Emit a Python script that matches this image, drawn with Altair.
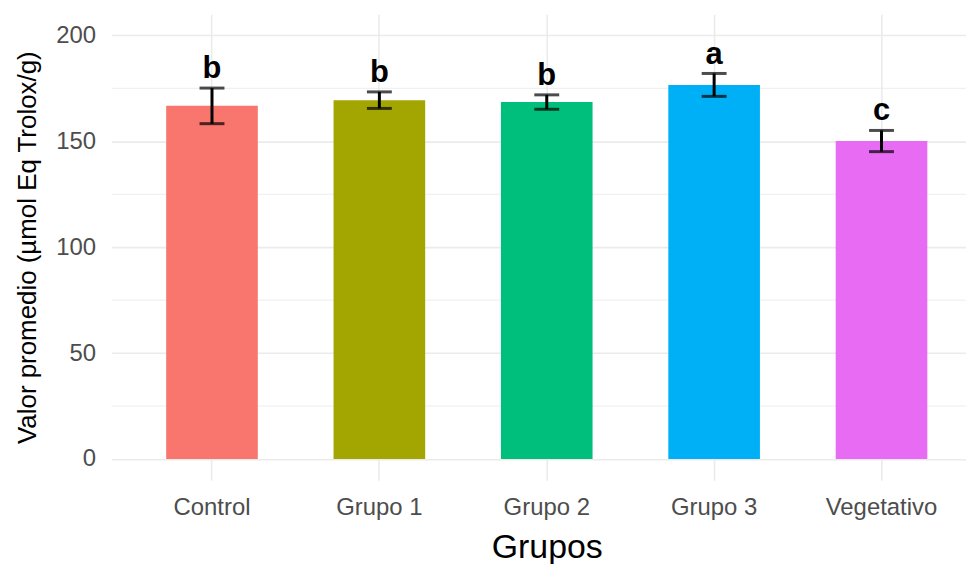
import altair as alt
import pandas as pd

groups = ["Control", "Grupo 1", "Grupo 2", "Grupo 3", "Vegetativo"]
means = [166.7, 169.4, 168.5, 176.6, 150.1]
errs = [8.4, 3.9, 3.4, 5.4, 5.0]
letters = ["b", "b", "b", "a", "c"]
colors = ["#F8766D", "#A3A500", "#00BF7D", "#00B0F6", "#E76BF3"]
major_ticks = [0, 50, 100, 150, 200]
minor_ticks = [25, 75, 125, 175]

df = pd.DataFrame({
    "group": groups,
    "mean": means,
    "lower": [m - e for m, e in zip(means, errs)],
    "upper": [m + e for m, e in zip(means, errs)],
    "letter": letters,
})
minor_df = pd.DataFrame({"v": minor_ticks})

FONT = "Liberation Sans"
PLOT_W = 874
Y_TITLE = "Valor promedio (µmol Eq Trolox/g)"

yscale = alt.Scale(domain=[-10, 210], nice=False, zero=False)
xscale = alt.Scale(domain=groups, range=[0, PLOT_W], paddingInner=0.4526, paddingOuter=0.3263)

x_axis = alt.Axis(
    title="Grupos", titleFontSize=34, titleColor="black", titleFontWeight="normal",
    titleFont=FONT, titlePadding=12,
    labelFontSize=24, labelColor="#4D4D4D", labelFont=FONT, labelPadding=15, labelAngle=0,
    ticks=False, domain=False, grid=True, gridColor="#EBEBEB", gridWidth=1.6, bandPosition=0.5,
)
y_axis = alt.Axis(
    title=Y_TITLE, titleFontSize=26, titleColor="black",
    titleFontWeight="normal", titleFont=FONT, titlePadding=15,
    labelFontSize=24, labelColor="#4D4D4D", labelFont=FONT, labelPadding=16,
    values=major_ticks, ticks=False, domain=False, grid=True, gridColor="#EBEBEB", gridWidth=1.6,
)

minor = alt.Chart(minor_df).mark_rule(color="#EBEBEB", strokeWidth=0.9).encode(
    y=alt.Y("v:Q", scale=yscale, axis=y_axis, title=Y_TITLE),
    x=alt.value(0), x2=alt.value(PLOT_W),
)

base = alt.Chart(df)

bars = base.mark_bar().encode(
    x=alt.X("group:N", sort=groups, scale=xscale, axis=x_axis),
    y=alt.Y("mean:Q", scale=yscale, axis=y_axis, title=Y_TITLE),
    color=alt.Color("group:N", scale=alt.Scale(domain=groups, range=colors), legend=None),
)

err = base.mark_rule(color="black", strokeWidth=3).encode(
    x=alt.X("group:N", sort=groups, scale=xscale),
    y=alt.Y("lower:Q", scale=yscale, title=Y_TITLE),
    y2="upper:Q",
)
cap_top = base.mark_tick(color="black", orient="horizontal", size=25, thickness=3).encode(
    x=alt.X("group:N", sort=groups, scale=xscale),
    y=alt.Y("upper:Q", scale=yscale, title=Y_TITLE),
)
cap_bot = base.mark_tick(color="black", orient="horizontal", size=25, thickness=3).encode(
    x=alt.X("group:N", sort=groups, scale=xscale),
    y=alt.Y("lower:Q", scale=yscale, title=Y_TITLE),
)
text = base.mark_text(fontSize=31, fontWeight="bold", font=FONT, baseline="alphabetic",
                      dy=-10, color="black").encode(
    x=alt.X("group:N", sort=groups, scale=xscale),
    y=alt.Y("upper:Q", scale=yscale, title=Y_TITLE),
    text="letter:N",
)

chart = alt.layer(minor, bars, err, cap_top, cap_bot, text).properties(
    width=858, height=468,
    autosize=alt.AutoSizeParams(type="none"),
    padding={"left": 104, "top": 5, "right": 0, "bottom": 88},
    background="white",
).configure_view(stroke=None)

chart.save("out.html", embed_options={"renderer": "svg", "actions": False})
